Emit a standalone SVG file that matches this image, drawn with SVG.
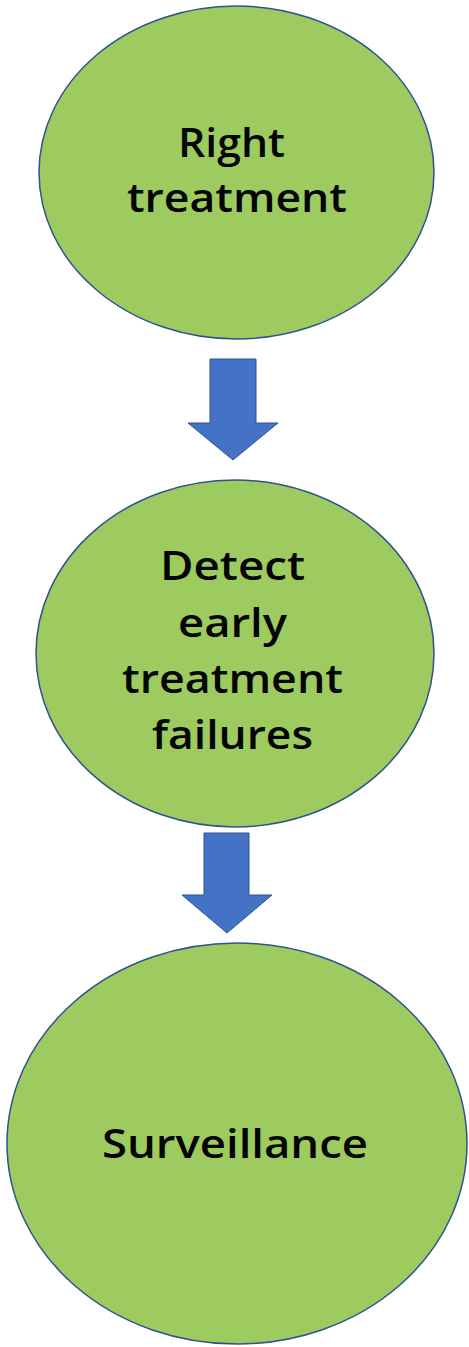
<svg xmlns="http://www.w3.org/2000/svg" width="469" height="1347" viewBox="0 0 469 1347">
<style>
.node{fill:#9DCB5F;stroke:#2F528F;stroke-width:1.5}
.arrow{fill:#4472C4;stroke:#2F528F;stroke-width:1}
.lbl{font-family:"Open Sans","Liberation Sans",sans-serif;font-size:40px;font-weight:600;fill:#050505;text-anchor:start}
</style>
<rect width="469" height="1347" fill="#fff"/>
<g id="node-right-treatment">
<ellipse class="node" cx="236.5" cy="172.5" rx="197.5" ry="166.5"/>
<text class="lbl" x="178" y="157" textLength="107" lengthAdjust="spacingAndGlyphs">Right</text>
<text class="lbl" x="127" y="212" textLength="220" lengthAdjust="spacingAndGlyphs">treatment</text>
</g>
<g id="node-detect">
<ellipse class="node" cx="235" cy="653.5" rx="199" ry="173.5"/>
<text class="lbl" x="160" y="580" textLength="145" lengthAdjust="spacingAndGlyphs">Detect</text>
<text class="lbl" x="178" y="637" textLength="109" lengthAdjust="spacingAndGlyphs">early</text>
<text class="lbl" x="122" y="693" textLength="221" lengthAdjust="spacingAndGlyphs">treatment</text>
<text class="lbl" x="152" y="749" textLength="161" lengthAdjust="spacingAndGlyphs">failures</text>
</g>
<g id="node-surveillance">
<ellipse class="node" cx="237" cy="1143.5" rx="230" ry="200.5"/>
<text class="lbl" x="102" y="1158" textLength="266" lengthAdjust="spacingAndGlyphs">Surveillance</text>
</g>
<g id="connectors">
<polygon class="arrow" points="210,359 256,359 256,423 278,423 233,460 188,423 210,423"/>
<polygon class="arrow" points="204,833 249,833 249,895 272,895 227,933 182,895 204,895"/>
</g>
</svg>
